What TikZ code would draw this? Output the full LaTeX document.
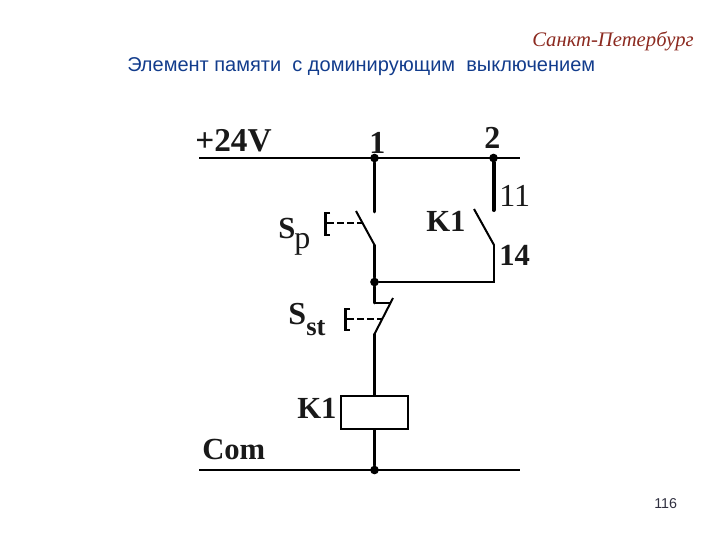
\documentclass[tikz,border=0pt]{standalone}
\usepackage{fontspec}
\setmainfont{Liberation Serif}
\newfontfamily\arialf{Liberation Sans}
\definecolor{cityred}{HTML}{8C2A20}
\definecolor{titleblue}{HTML}{123C8C}
\definecolor{pagegrey}{HTML}{303040}
\tikzset{
  wire/.style={line width=2.2pt,black,line cap=round,line join=miter},
  thinwire/.style={line width=1.5pt,black},
  bus/.style={line width=1.5pt,black},
  dot/.style={circle,fill=black,inner sep=0pt,minimum size=6.5pt},
  ctrl/.style={line width=1.2pt,black,dash pattern=on 5pt off 2.5pt},
  brk/.style={line width=1.6pt,black},
  lbl/.style={inner sep=0pt,anchor=west,font=\bfseries\fontsize{#1}{#1}\selectfont,text=black!90},
  lbl/.default=25pt,
  coil/.style={draw=black,line width=1.6pt,fill=white,minimum width=50pt,minimum height=24.5pt,inner sep=0pt},
}
\begin{document}
\begin{tikzpicture}[x=0.75pt,y=-0.75pt]
\useasboundingbox (0,0) rectangle (720,540);
% texts
\node[anchor=west,inner sep=0pt,text=cityred,font=\itshape\fontsize{15.5pt}{15.5pt}\selectfont] (city) at (532,41) {Санкт-Петербург};
\node[anchor=west,inner sep=0pt,text=titleblue,font=\arialf\fontsize{15pt}{15pt}\selectfont] (title) at (127,67) {Элемент памяти\ \ с доминирующим\ \ выключением};
\node[anchor=west,inner sep=0pt,text=pagegrey,font=\arialf\fontsize{10.7pt}{10.7pt}\selectfont] (page) at (654,504) {116};
% coordinates
\coordinate (b1l) at (199,158); \coordinate (b1r) at (520,158);
\coordinate (b2l) at (199,470); \coordinate (b2r) at (520,470);
\node[dot] (j1) at (374.5,158) {};
\node[dot] (j2) at (493.5,158) {};
\node[dot] (j3) at (374.5,282) {};
\node[dot] (j4) at (374.5,470) {};
\coordinate (spt) at (374.5,212);
\coordinate (spb) at (374.5,245);
\coordinate (spf) at (356,211);
\coordinate (kt) at (493.5,210);
\coordinate (kb) at (494,245);
\coordinate (kf) at (474,209);
\coordinate (kc) at (494,282);
\coordinate (stt) at (374.5,303);
\coordinate (stb) at (374.5,334);
\coordinate (stf) at (393,298);
\coordinate (stm) at (391,303);
\node[coil] (coil) at (374.5,412.5) {};
% buses
\draw[bus] (b1l) -- (b1r);
\draw[bus] (b2l) -- (b2r);
% wires
\draw[wire] (j1) -- (spt);
\draw[wire,line width=3pt] (j2) -- (kt);
\draw[thinwire] (spf) -- (spb);
\draw[thinwire] (kf) -- (kb);
\draw[wire] (spb) -- (j3);
\draw[wire] (kb) -- (kc) -- (j3);
\draw[wire] (j3) -- (stt);
\draw[thinwire] (stt) -- (stm);
\draw[thinwire] (stf) -- (stb);
\draw[wire] (stb) -- (coil.north);
\draw[wire] (coil.south) -- (j4);
% Sp actuator
\draw[brk] (330,213) -- (325.5,213) -- (325.5,235) -- (330,235);
\draw[ctrl] (327,223) -- (362,223);
% Sst actuator
\draw[brk] (350,309) -- (345.5,309) -- (345.5,330) -- (350,330);
\draw[ctrl] (347,319) -- (383,319);
% labels
\node[lbl] (l24) at (195,141) {+24V};
\node[lbl=24pt] (n1) at (369,143) {1};
\node[lbl=24pt] (n2) at (484,138) {2};
\node[lbl=24pt,font=\fontsize{24pt}{24pt}\selectfont] (n11) at (499,196) {11};
\node[lbl=23pt] (n14) at (499,255) {14};
\node[lbl=23pt] (k1a) at (426,221) {K1};
\node[lbl=23pt] (k1b) at (297,408) {K1};
\node[lbl=23pt] (sp) at (278,228) {S};
\node[lbl=24pt,font=\fontsize{24pt}{24pt}\selectfont] (spp) at (294,244) {p};
\node[lbl=24pt] (sst) at (288,314) {S};
\node[lbl=20pt] (sst2) at (306,328) {st};
\node[lbl=23pt] (com) at (202,449) {Com};
\end{tikzpicture}
\end{document}
